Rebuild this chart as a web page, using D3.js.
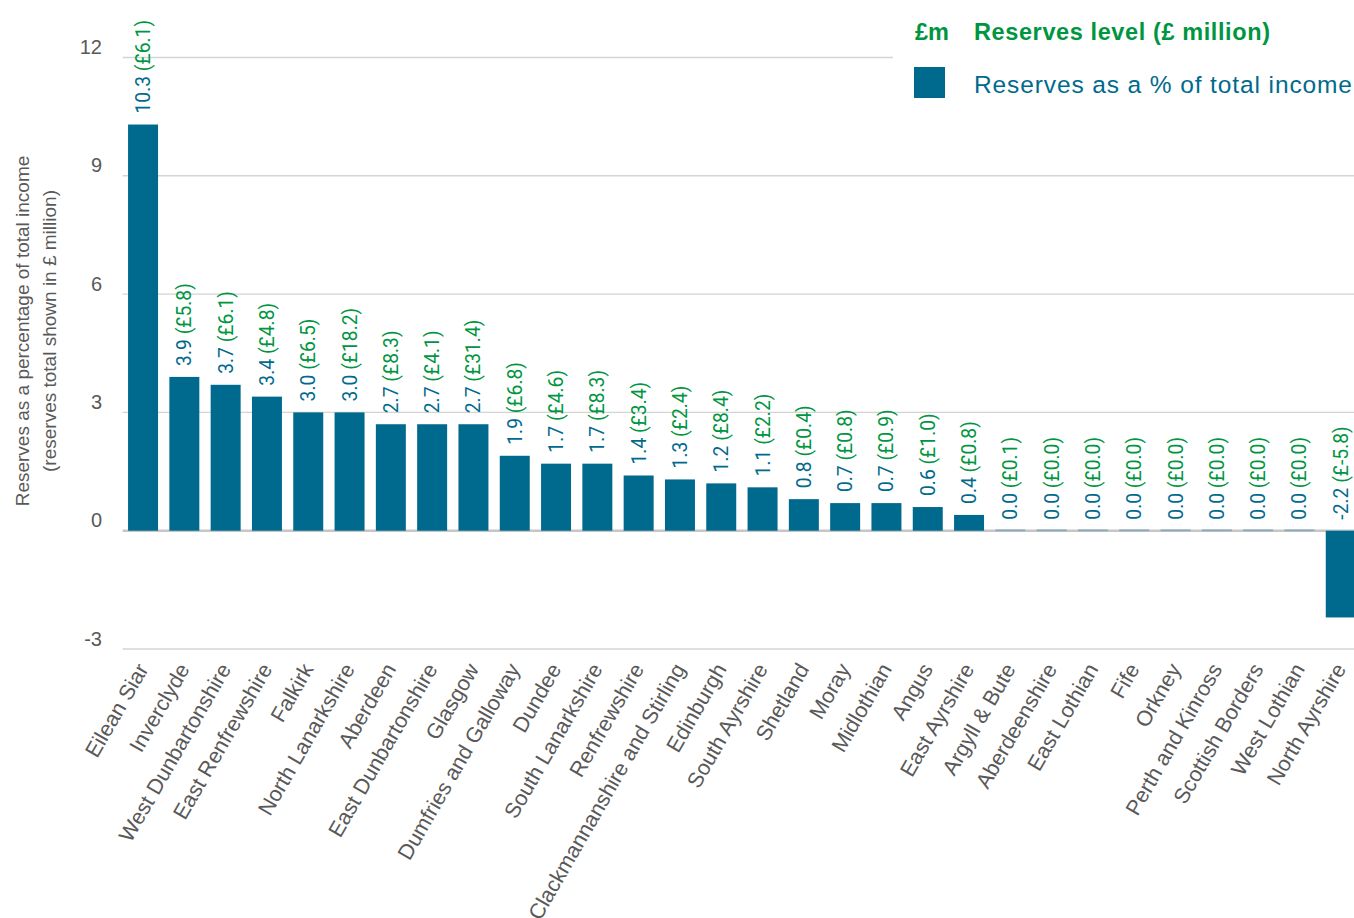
<!DOCTYPE html>
<html>
<head>
<meta charset="utf-8">
<script src="https://cdn.jsdelivr.net/npm/d3@7"></script>
<style>
  html, body { margin: 0; padding: 0; background: #fff; }
  svg { display: block; }
</style>
</head>
<body>
<svg id="chart" width="1354" height="918"></svg>
<script>
const councils = ["Eilean Siar","Inverclyde","West Dunbartonshire","East Renfrewshire","Falkirk","North Lanarkshire","Aberdeen","East Dunbartonshire","Glasgow","Dumfries and Galloway","Dundee","South Lanarkshire","Renfrewshire","Clackmannanshire and Stirling","Edinburgh","South Ayrshire","Shetland","Moray","Midlothian","Angus","East Ayrshire","Argyll & Bute","Aberdeenshire","East Lothian","Fife","Orkney","Perth and Kinross","Scottish Borders","West Lothian","North Ayrshire"];
const pctIncome = [10.3,3.9,3.7,3.4,3.0,3.0,2.7,2.7,2.7,1.9,1.7,1.7,1.4,1.3,1.2,1.1,0.8,0.7,0.7,0.6,0.4,0.0,0.0,0.0,0.0,0.0,0.0,0.0,0.0,-2.2];
const reservesM = [6.1,5.8,6.1,4.8,6.5,18.2,8.3,4.1,31.4,6.8,4.6,8.3,3.4,2.4,8.4,2.2,0.4,0.8,0.9,1.0,0.8,0.1,0.0,0.0,0.0,0.0,0.0,0.0,0.0,-5.8];
const yTicks = [-3,0,3,6,9,12];
const yTitleLines = ["Reserves as a percentage of total income","(reserves total shown in £ million)"];
const legendTitle = ["£m","Reserves level (£ million)"];
const legendSeries = "Reserves as a % of total income";

const BLUE = "#006a8e", GREEN = "#00963f", GREY = "#595959", GRID = "#d4d4d4";
const W = 1354, H = 918;
const svg = d3.select("#chart");

const x = d3.scaleBand().domain(councils).range([122.4, 1361.4]).paddingInner(0.274).paddingOuter(0.137);
const y = d3.scaleLinear().domain([-3, 12]).range([649, 57.5]);

// gridlines
svg.append("g").selectAll("line").data(yTicks.filter(d => d !== 0)).join("line")
  .attr("x1", 122.7).attr("x2", d => d === 12 ? 893 : W)
  .attr("y1", d => y(d)).attr("y2", d => y(d))
  .attr("stroke", GRID).attr("stroke-width", 1.4);

// baseline
svg.append("line").attr("x1", 122.7).attr("x2", W).attr("y1", y(0)).attr("y2", y(0))
  .attr("stroke", "#c6c6c6").attr("stroke-width", 2.6);

// tick labels
svg.append("g").selectAll("text").data(yTicks).join("text")
  .attr("x", 102).attr("y", d => y(d) - 3.5)
  .attr("text-anchor", "end")
  .attr("font-family", "Liberation Sans, Arial, sans-serif").attr("font-size", 20)
  .attr("fill", GREY).text(d => d);

// y title
yTitleLines.forEach((t, i) => {
  svg.append("text")
    .attr("transform", `translate(${29 + i * 27},331) rotate(-90)`)
    .attr("text-anchor", "middle")
    .attr("font-family", "Liberation Sans, Arial, sans-serif").attr("font-size", 19)
    .attr("fill", GREY).text(t);
});

// bars
const data = councils.map((c, i) => ({c, v: pctIncome[i], m: reservesM[i]}));
svg.append("g").selectAll("rect").data(data).join("rect")
  .attr("x", d => x(d.c)).attr("width", x.bandwidth())
  .attr("y", d => d.v === 0 ? y(0) - 1.5 : Math.min(y(d.v), y(0)))
  .attr("height", d => d.v === 0 ? 2 : Math.abs(y(d.v) - y(0)))
  .attr("fill", BLUE)
  .attr("fill-opacity", d => d.v === 0 ? 0.3 : 1);

// value labels
const lab = svg.append("g").selectAll("text").data(data).join("text")
  .attr("transform", d => `translate(${x(d.c) + x.bandwidth() / 2},${Math.min(y(d.v), y(0)) - 11}) rotate(-90)`)
  .attr("dy", "0.36em")
  .attr("font-family", "Roboto, sans-serif").attr("font-size", 19.3);
lab.append("tspan").attr("fill", BLUE).text(d => d.v.toFixed(1) + " ");
lab.append("tspan").attr("fill", GREEN).text(d => `(£${d.m.toFixed(1)})`);

// category labels
svg.append("g").selectAll("text").data(councils).join("text")
  .attr("transform", d => `translate(${x(d) + x.bandwidth() / 2 + 6},669) rotate(-60)`)
  .attr("text-anchor", "end")
  .attr("font-family", "Liberation Sans, Arial, sans-serif").attr("font-size", 21.5)
  .attr("fill", GREY).text(d => d);

// legend
svg.append("text").attr("x", 915).attr("y", 39.5)
  .attr("font-family", "Liberation Sans, Arial, sans-serif").attr("font-size", 23.5).attr("font-weight", "bold")
  .attr("fill", GREEN).text(legendTitle[0]);
svg.append("text").attr("x", 974).attr("y", 39.5)
  .attr("font-family", "Liberation Sans, Arial, sans-serif").attr("font-size", 23.5).attr("font-weight", "bold")
  .attr("fill", GREEN).attr("textLength", 296).attr("lengthAdjust", "spacing").text(legendTitle[1]);
svg.append("rect").attr("x", 914).attr("y", 67).attr("width", 31).attr("height", 31).attr("fill", BLUE);
svg.append("text").attr("x", 974).attr("y", 92.5)
  .attr("font-family", "Liberation Sans, Arial, sans-serif").attr("font-size", 24.5)
  .attr("fill", BLUE).attr("textLength", 378).attr("lengthAdjust", "spacing").text(legendSeries);
</script>
</body>
</html>
